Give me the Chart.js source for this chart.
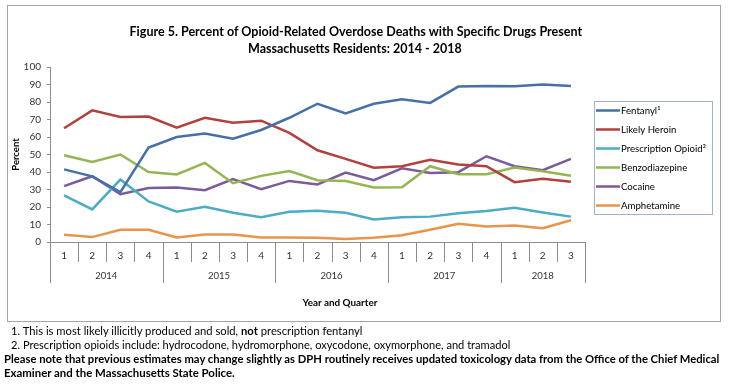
<!DOCTYPE html>
<html>
<head>
<meta charset="utf-8">
<script src="https://cdn.jsdelivr.net/npm/chart.js@4.4.1/dist/chart.umd.min.js"></script>
<style>
  body { margin: 0; background: #fff; font-family: Lato, sans-serif; }
  #wrap { position: relative; width: 731px; height: 386px; overflow: hidden; }
  #myChart { position: absolute; left: 0; top: 0; }
  .t { position: absolute; white-space: nowrap; color: #000; line-height: 1; }
  .b { font-weight: bold; }
</style>
</head>
<body>
<div id="wrap">
  <canvas id="myChart" width="731" height="330"></canvas>
  <div class="t b fit" style="font-size:13px" data-w="453" data-cx="356" data-cy="33">Figure 5. Percent of Opioid-Related Overdose Deaths with Specific Drugs Present</div>
  <div class="t b fit" style="font-size:13px" data-w="214" data-cx="355" data-cy="50">Massachusetts Residents: 2014 - 2018</div>
  <div class="t b fit" style="font-size:10px" data-w="75" data-cx="340" data-cy="303">Year and Quarter</div>
  <div class="t fit" style="font-size:11px;left:11px" data-w="352" data-cy="331">1. This is most likely illicitly produced and sold, <b>not</b> prescription fentanyl</div>
  <div class="t fit" style="font-size:11px;left:11px" data-w="500" data-cy="345">2. Prescription opioids include: hydrocodone, hydromorphone, oxycodone, oxymorphone, and tramadol</div>
  <div class="t b fit" style="font-size:11px;left:4px" data-w="716" data-cy="359">Please note that previous estimates may change slightly as DPH routinely receives updated toxicology data from the Office of the Chief Medical</div>
  <div class="t b fit" style="font-size:11px;left:4px" data-w="231" data-cy="373">Examiner and the Massachusetts State Police.</div>
</div>
<script>
// quarters, year groups
const quarters = ['1','2','3','4','1','2','3','4','1','2','3','4','1','2','3','4','1','2','3']
const years = ['2014','2015','2016','2017','2018']
const quartersPerYear = [4, 4, 4, 4, 3]
const yTicks = [0, 10, 20, 30, 40, 50, 60, 70, 80, 90, 100]

// percent of deaths, by quarter
const fentanyl = [41.5, 37.5, 28.5, 54, 60, 62, 59, 64, 71, 79, 73.5, 79, 81.5, 79.5, 88.8, 89.2, 89, 90, 89.2]
const heroin = [65, 75.2, 71.4, 71.7, 65.3, 71, 68.2, 69.3, 62.3, 52.4, 47.5, 42.4, 43.3, 47, 44.3, 43.3, 34.2, 36.1, 34.4]
const rxOpioid = [26.6, 18.6, 35.7, 23.2, 17.3, 20.1, 16.7, 14.1, 17.3, 17.9, 16.7, 12.9, 14.1, 14.5, 16.4, 17.7, 19.6, 16.9, 14.5]
const benzo = [49.6, 45.7, 50, 40, 38.6, 45.2, 33.6, 37.8, 40.6, 35.3, 34.9, 31.1, 31.3, 43.3, 38.7, 38.7, 42.5, 40.4, 37.8]
const cocaine = [31.9, 37.6, 27.3, 30.9, 31.1, 29.6, 35.9, 30.2, 34.9, 32.9, 39.7, 35.3, 42.1, 39.5, 39.9, 49, 43.3, 41, 47.5]
const amphetamine = [4.1, 2.8, 7, 7, 2.6, 4.3, 4.3, 2.6, 2.6, 2.4, 1.7, 2.4, 3.8, 7, 10.4, 8.9, 9.4, 7.9, 12.4]

const seriesNames = ['Fentanyl\u00b9', 'Likely Heroin', 'Prescription Opioid\u00b2', 'Benzodiazepine', 'Cocaine', 'Amphetamine']
const seriesColors = ['#4670a8', '#b3403c', '#4bacc6', '#95b553', '#7b5b9b', '#e8944a']
const seriesData = [fentanyl, heroin, rxOpioid, benzo, cocaine, amphetamine]

// fit html texts to the widths measured on the reference
document.querySelectorAll('.fit').forEach(el => {
  const target = +el.dataset.w
  let fs = parseFloat(el.style.fontSize)
  const w = el.getBoundingClientRect().width
  fs = fs * target / w
  el.style.fontSize = fs + 'px'
  el.style.top = (+el.dataset.cy - fs * 0.53) + 'px'
  if (el.dataset.cx) el.style.left = (+el.dataset.cx - target / 2) + 'px'
})

Chart.defaults.font.family = 'Lato, sans-serif'
Chart.defaults.color = '#333'

function fitSize(ctx, text, weight, target) {
  ctx.font = weight + ' 10px Lato, sans-serif'
  return 10 * target / ctx.measureText(text).width
}

const extras = {
  id: 'extras',
  afterDraw(chart) {
    const ctx = chart.ctx
    const xs = chart.scales.x
    const area = chart.chartArea
    ctx.save()
    // outer frame
    ctx.strokeStyle = '#a6a6a6'
    ctx.lineWidth = 1
    ctx.strokeRect(7.5, 5.5, 713, 316)

    // category separators and year labels
    const step = xs.getPixelForValue(1) - xs.getPixelForValue(0)
    const left = xs.getPixelForValue(0) - step / 2
    const yearStarts = [0]
    quartersPerYear.forEach((n, i) => yearStarts.push(yearStarts[i] + n))
    ctx.strokeStyle = '#8c8c8c'
    ctx.beginPath()
    for (let i = 0; i <= quarters.length; i++) {
      const x = Math.round(left + i * step) + 0.5
      const long = yearStarts.includes(i)
      ctx.moveTo(x, area.bottom)
      ctx.lineTo(x, area.bottom + (long ? 41 : 20))
    }
    ctx.stroke()
    ctx.fillStyle = '#333'
    ctx.font = '9.5px Lato, sans-serif'
    ctx.textAlign = 'center'
    ctx.textBaseline = 'middle'
    years.forEach((yr, i) => {
      const cx = left + (yearStarts[i] + yearStarts[i + 1]) / 2 * step
      ctx.fillText(yr, cx, area.bottom + 34)
    })

    // legend
    const lx = 594, ly = 101, lw = 118, lh = 113
    ctx.strokeStyle = '#9fb3d1'
    ctx.strokeRect(lx + 0.5, ly + 0.5, lw, lh)
    const fs = fitSize(ctx, seriesNames[2], 'normal', 85)
    ctx.font = fs + 'px Lato, sans-serif'
    ctx.textAlign = 'left'
    chart.data.datasets.forEach((ds, i) => {
      const y = ly + 9.5 + i * 19
      ctx.strokeStyle = ds.borderColor
      ctx.lineWidth = 2.5
      ctx.beginPath()
      ctx.moveTo(lx + 2, y)
      ctx.lineTo(lx + 26, y)
      ctx.stroke()
      ctx.fillStyle = '#000'
      ctx.fillText(ds.label, lx + 27, y)
    })
    ctx.restore()
  }
}

new Chart(document.getElementById('myChart'), {
  type: 'line',
  data: {
    labels: quarters,
    datasets: seriesData.map((d, i) => ({
      label: seriesNames[i],
      data: d,
      borderColor: seriesColors[i],
      backgroundColor: seriesColors[i],
      borderWidth: 2.5,
      pointRadius: 0,
      tension: 0,
      fill: false
    }))
  },
  options: {
    responsive: false,
    animation: false,
    devicePixelRatio: 1,
    layout: { padding: { top: 67, left: 8, right: 146, bottom: 18 } },
    plugins: {
      legend: { display: false },
      title: { display: false },
      tooltip: { enabled: false }
    },
    scales: {
      x: {
        offset: true,
        grid: { display: false, drawTicks: false },
        border: { display: true, color: '#8c8c8c' },
        ticks: { font: { size: 10 }, padding: 8, maxRotation: 0, autoSkip: false },
        afterFit: s => { s.height = 70 }
      },
      y: {
        min: 0,
        max: 100,
        afterBuildTicks: s => { s.ticks = yTicks.map(v => ({ value: v })) },
        grid: { drawOnChartArea: false, tickLength: 3, color: '#8c8c8c' },
        border: { display: true, color: '#8c8c8c' },
        ticks: { font: { size: 10 }, padding: 6 },
        title: { display: true, text: 'Percent', font: { size: 9.5, weight: 'bold' }, color: '#000', padding: { top: 2, bottom: 0 } },
        afterFit: s => { s.width = 42 }
      }
    }
  },
  plugins: [extras]
})
</script>
</body>
</html>
